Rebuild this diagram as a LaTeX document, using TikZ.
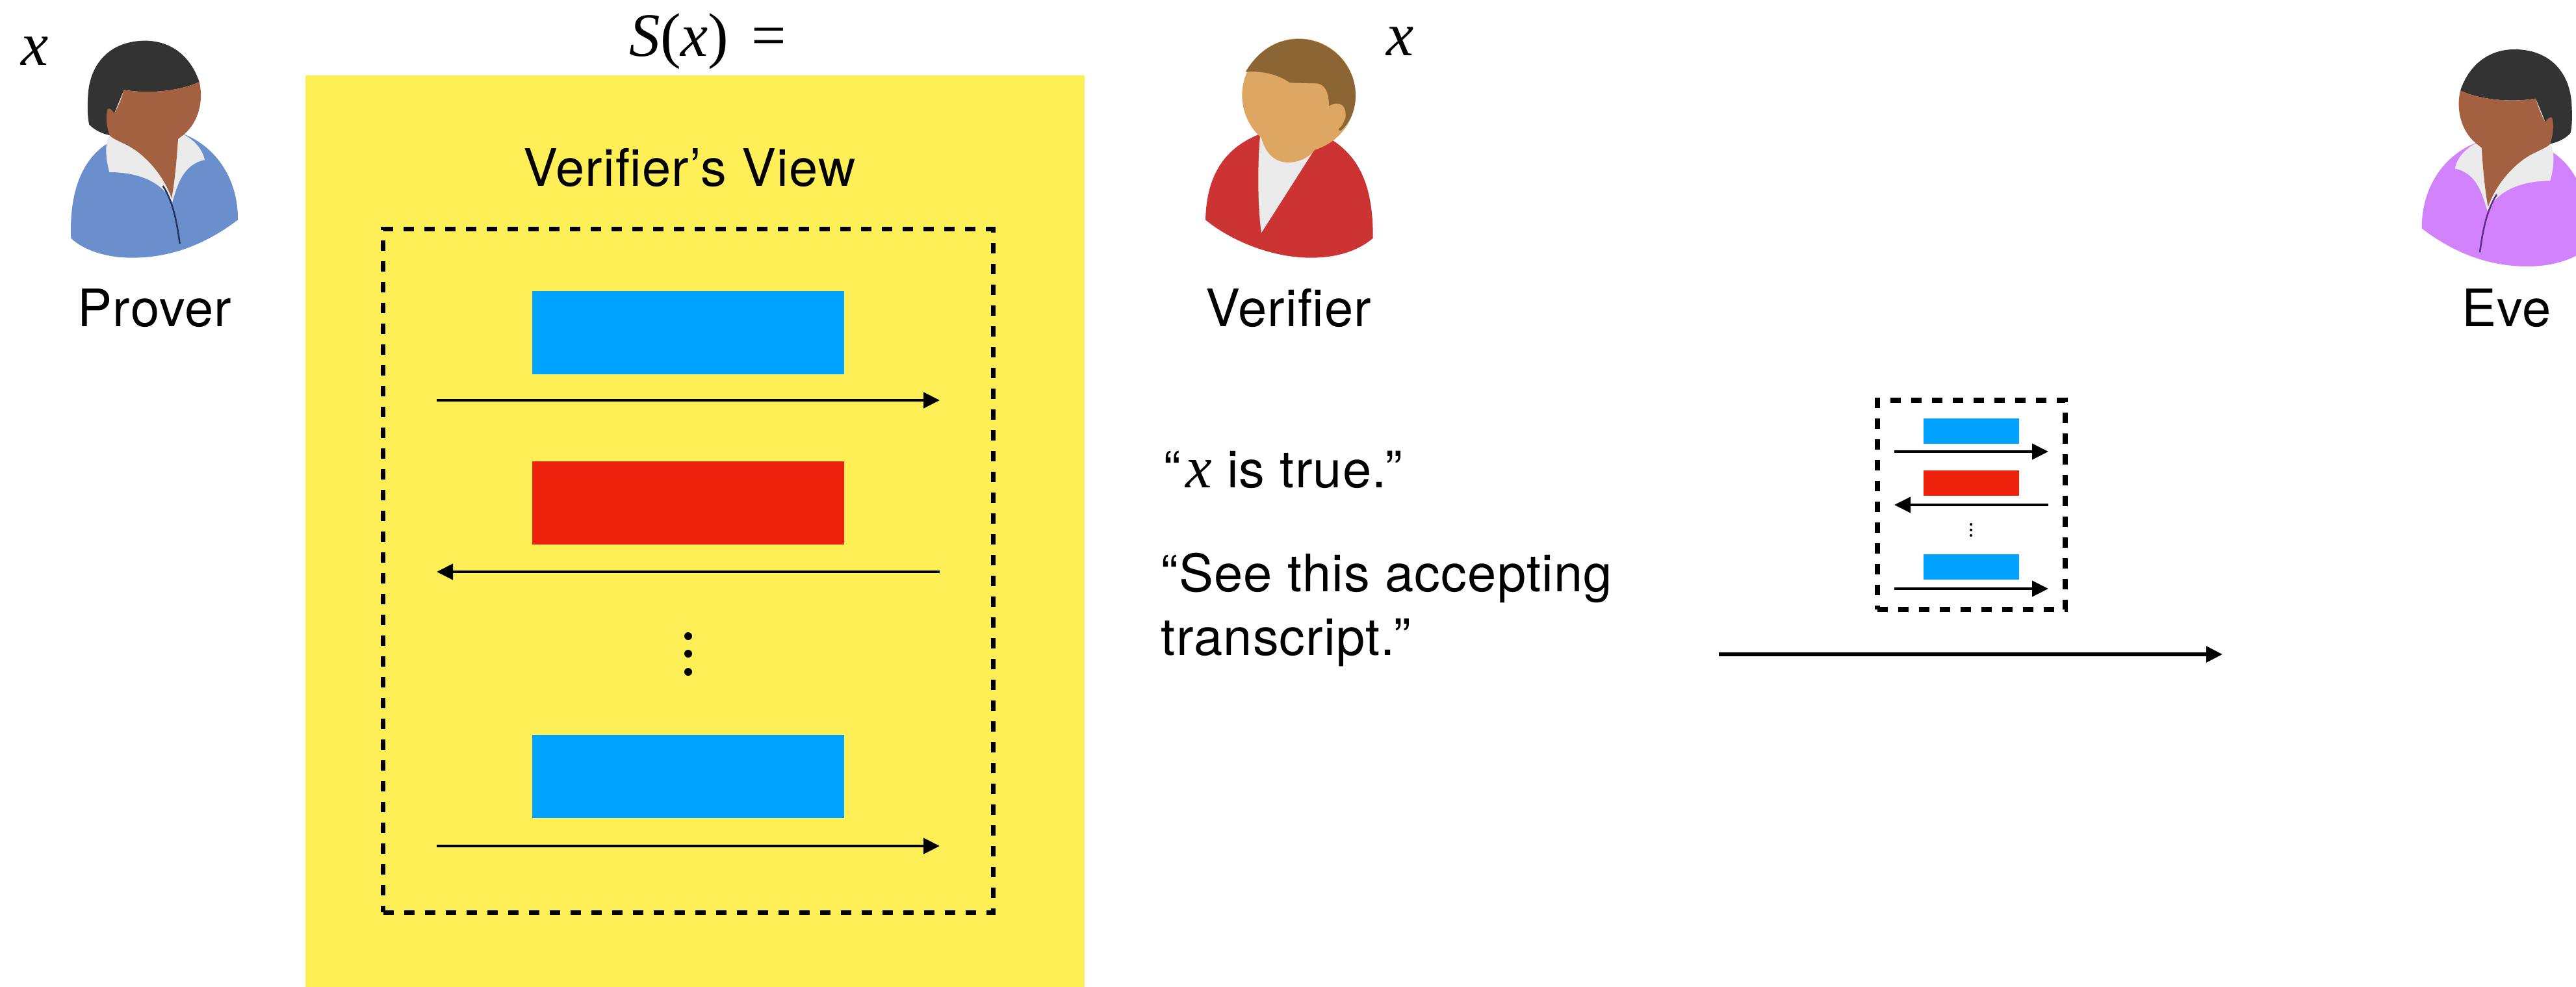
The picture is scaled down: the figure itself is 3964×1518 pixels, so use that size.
\documentclass[tikz,border=0pt]{standalone}
\usepackage{fontspec}
\setmainfont{TeX Gyre Heros}[LetterSpace=1.5]
\newfontfamily\timesfont{Liberation Serif}
\usetikzlibrary{arrows.meta}

\definecolor{viewyellow}{HTML}{FFEF57}
\definecolor{msgblue}{HTML}{00A3FF}
\definecolor{msgred}{HTML}{EE220C}
\definecolor{proverblue}{HTML}{6B8ECD}
\definecolor{proverfold}{HTML}{22345E}
\definecolor{skindark}{HTML}{A46141}
\definecolor{hairdark}{HTML}{333333}
\definecolor{collar}{HTML}{EBEBEB}
\definecolor{verifierred}{HTML}{CC3333}
\definecolor{skinlight}{HTML}{DDA663}
\definecolor{hairbrown}{HTML}{8B6534}
\definecolor{evepurple}{HTML}{D282FC}
\definecolor{evefold}{HTML}{5C2C7F}

\tikzset{
  lbl/.style={font=\fontsize{22.6}{27}\selectfont, inner sep=0pt, anchor=base},
  varx/.style={font=\fontsize{27}{27}\selectfont\timesfont\itshape, inner sep=0pt},
  msgarrow/.style={line width=0.45mm, -{Triangle[length=2.5mm,width=2.4mm]}},
  dashbox/.style={draw, line width=0.75mm, dash pattern=on 1.6mm off 1.6mm, inner sep=0pt},
  bigmsg/.style={inner sep=0pt, minimum width=4.8cm, minimum height=1.27cm},
  smallmsg/.style={inner sep=0pt, minimum width=1.47cm, minimum height=0.39cm},
}

% person with a bob haircut and an open collar; #1 shirt, #2 shirt fold
\newcommand{\drawbobperson}[2]{%
  \fill[#1] (328,1100) .. controls (318,850) and (400,690) .. (560,630)
    -- (850,620) .. controls (1000,680) and (1100,830) .. (1098,1015)
    .. controls (960,1120) and (800,1190) .. (610,1190)
    .. controls (480,1190) and (380,1150) .. (328,1100) -- cycle;
  \fill[collar] (505,625) .. controls (485,660) and (485,720) .. (505,795)
    .. controls (640,795) and (750,840) .. (795,935)
    .. controls (820,850) and (845,760) .. (945,738)
    .. controls (935,690) and (900,650) .. (850,622) -- cycle;
  \draw[#2, line width=0.25mm] (752,858) .. controls (795,925) and (815,1010) .. (830,1125);
  \fill[hairdark] (920,378) .. controls (880,260) and (790,188) .. (670,188)
    .. controls (520,188) and (420,280) .. (407,430)
    .. controls (402,500) and (405,550) .. (412,575)
    .. controls (440,605) and (480,620) .. (515,626)
    -- (527,525) -- (572,415)
    .. controls (690,435) and (830,420) .. (920,378) -- cycle;
  \fill[skindark] (572,415) .. controls (690,435) and (830,420) .. (920,378)
    .. controls (940,460) and (920,560) .. (850,620) -- (822,642)
    .. controls (815,750) and (805,850) .. (792,915)
    .. controls (760,820) and (680,720) .. (590,672)
    .. controls (550,652) and (520,640) .. (507,626)
    .. controls (490,585) and (487,525) .. (498,502)
    .. controls (508,498) and (520,510) .. (527,525)
    .. controls (548,490) and (562,450) .. (572,415) -- cycle;
}

\begin{document}
\begin{tikzpicture}[x=0.01cm, y=-0.01cm]
\useasboundingbox (0,0) rectangle (3964,1518);
\clip (0,0) rectangle (3964,1518);

% ---- Prover ----
\begin{scope}[scale=1/3]
  \drawbobperson{proverblue}{proverfold}
\end{scope}
\node[varx] (xp) at (54,79) {x};
\node[lbl] (prover) at (238,502) {Prover};

% ---- Verifier ----
\begin{scope}[shift={(1780,0)}, scale=1/3]
  \fill[verifierred] (225,1015) .. controls (230,800) and (320,680) .. (478,618)
    -- (800,640) .. controls (930,720) and (1000,850) .. (998,1100)
    .. controls (920,1165) and (820,1190) .. (710,1190)
    .. controls (530,1190) and (340,1110) .. (225,1015) -- cycle;
  \fill[collar] (478,618) .. controls (465,750) and (465,950) .. (483,1075) -- (740,672) -- cycle;
  \fill[skinlight] (656,440) circle[radius=262];
  \fill[skinlight] (478,610) .. controls (492,705) and (545,750) .. (605,750)
    .. controls (665,750) and (715,722) .. (742,672)
    .. controls (790,655) and (825,628) .. (848,598) -- (700,500) -- cycle;
  \fill[hairbrown] (410,332) .. controls (470,230) and (560,180) .. (656,180)
    .. controls (800,180) and (918,300) .. (918,440)
    .. controls (918,510) and (890,570) .. (850,602)
    -- (800,520) -- (795,490)
    .. controls (795,430) and (780,390) .. (740,385) -- (615,382)
    .. controls (570,350) and (500,325) .. (410,332) -- cycle;
  \fill[skinlight] (795,490) .. controls (815,475) and (860,468) .. (870,510)
    .. controls (878,550) and (862,585) .. (845,598)
    .. controls (825,585) and (805,555) .. (798,520) -- cycle;
  \draw[hairbrown, line width=0.4mm, line cap=round] (846,597) .. controls (860,586) and (868,572) .. (872,556);
\end{scope}
\node[varx] (xv) at (2155,64) {x};
\node[lbl] (verifier) at (1983,502) {Verifier};

% ---- Eve ----
\begin{scope}[shift={(4092.67,13.33)}, xscale=-1/3, yscale=1/3]
  \drawbobperson{evepurple}{evefold}
\end{scope}
\node[lbl] (eve) at (3857,502) {Eve};

% ---- simulated view ----
\node[fill=viewyellow, inner sep=0pt, minimum width=11.99cm, minimum height=14.1cm] (view) at (1069.5,821) {};
\node[inner sep=0pt, anchor=base west, font=\fontsize{27}{27}\selectfont\timesfont] (sx) at (968,86)
  {\itshape S\upshape(\itshape x\upshape)\hspace{10pt}=};
\node[lbl] (viewtitle) at (1061,286) {Verifier’s View};
\node[dashbox, minimum width=9.38cm, minimum height=10.51cm] (viewbox) at (1059,878.5) {};

\node[bigmsg, fill=msgblue] (m1) at (1059,512) {};
\node[bigmsg, fill=msgred] (m2) at (1059,774) {};
\node[bigmsg, fill=msgblue] (m3) at (1059,1195) {};
\coordinate (a1l) at (672,616);  \coordinate (a1r) at (1446,616);
\coordinate (a2l) at (672,880);  \coordinate (a2r) at (1446,880);
\coordinate (a3l) at (672,1302); \coordinate (a3r) at (1446,1302);
\draw[msgarrow] (a1l) -- (a1r);
\draw[msgarrow] (a2r) -- (a2l);
\draw[msgarrow] (a3l) -- (a3r);
\foreach \yy in {979,1006,1034} \fill (1059,\yy) circle[radius=6];

% ---- claims ----
\node[lbl, anchor=base west] (claim1) at (1790,750)
  {“\hspace{2pt}{\fontsize{26}{26}\selectfont\timesfont\itshape x} is true.”};
\node[lbl, anchor=base west] (claim2a) at (1786,910) {“See this accepting};
\node[lbl, anchor=base west] (claim2b) at (1786,1008) {transcript.”};

% ---- transcript handed to Eve ----
\node[dashbox, minimum width=2.89cm, minimum height=3.22cm] (tbox) at (3033.5,777) {};
\node[smallmsg, fill=msgblue] (t1) at (3033.5,663.5) {};
\node[smallmsg, fill=msgred] (t2) at (3033.5,743.5) {};
\node[smallmsg, fill=msgblue] (t3) at (3033.5,872.5) {};
\coordinate (b1l) at (2915,695);  \coordinate (b1r) at (3152,695);
\coordinate (b2l) at (2915,777);  \coordinate (b2r) at (3152,777);
\coordinate (b3l) at (2915,906);  \coordinate (b3r) at (3152,906);
\draw[msgarrow, line width=0.4mm] (b1l) -- (b1r);
\draw[msgarrow, line width=0.4mm] (b2r) -- (b2l);
\draw[msgarrow, line width=0.4mm] (b3l) -- (b3r);
\foreach \yy in {807,815.5,824} \fill (3033,\yy) circle[radius=2];

\coordinate (sendl) at (2645,1007);
\coordinate (sendr) at (3420,1007);
\draw[msgarrow, line width=0.55mm] (sendl) -- (sendr);
\end{tikzpicture}
\end{document}
